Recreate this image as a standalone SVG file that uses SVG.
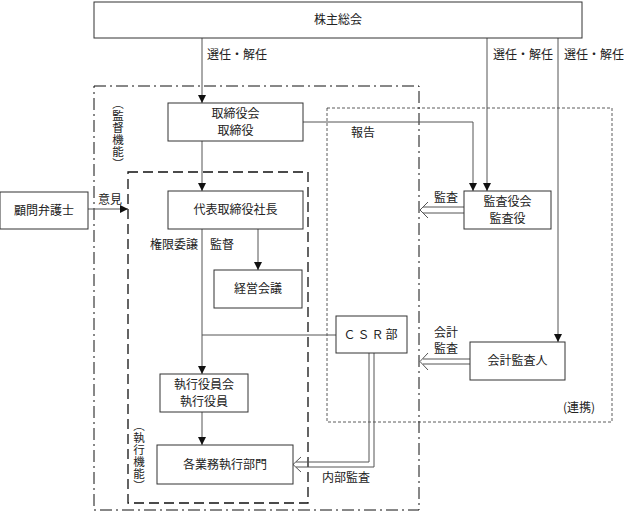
<svg xmlns="http://www.w3.org/2000/svg" width="624" height="515" viewBox="0 0 624 515">
<defs>
<style>
text{font-family:"Noto Sans CJK JP","Noto Sans CJK SC",sans-serif;font-size:12px;fill:#222}
.box{fill:#fff;stroke:#333;stroke-width:1}
.c{text-anchor:middle}
.ln{fill:none;stroke:#555;stroke-width:1}
.vt{writing-mode:vertical-rl;text-orientation:upright;font-size:11.5px;letter-spacing:0.5px}
</style>
<marker id="ah" viewBox="0 0 10 10" refX="10" refY="5" markerWidth="8" markerHeight="8" markerUnits="userSpaceOnUse" orient="auto">
<path d="M0,0 L10,5 L0,10 Z" fill="#111"/>
</marker>
</defs>
<rect width="624" height="515" fill="#fff"/>

<g id="regions">
<rect x="94" y="86" width="325" height="424" fill="none" stroke="#111" stroke-width="1" stroke-dasharray="12,4,2,4"/>
<rect x="128" y="172" width="180" height="331" fill="none" stroke="#111" stroke-width="1.3" stroke-dasharray="10,5"/>
<rect x="327" y="108" width="285" height="314" fill="none" stroke="#333" stroke-width="0.8" stroke-dasharray="3,2"/>
<text id="label-supervise" class="vt" x="118" y="98">︵監督機能︶</text>
<text id="label-execute" class="vt" x="139" y="420">︵執行機能︶</text>
<text x="563" y="412">(連携)</text>
</g>

<g id="connectors">
<line class="ln" x1="202" y1="38" x2="202" y2="103" marker-end="url(#ah)"/>
<line class="ln" x1="487" y1="38" x2="487" y2="191" marker-end="url(#ah)"/>
<line class="ln" x1="558" y1="38" x2="558" y2="342" marker-end="url(#ah)"/>
<polyline class="ln" points="303,122 473,122 473,191" marker-end="url(#ah)"/>
<line class="ln" x1="202" y1="141" x2="202" y2="191" marker-end="url(#ah)"/>
<line class="ln" x1="88" y1="209" x2="128" y2="209" marker-end="url(#ah)"/>
<line class="ln" x1="258" y1="229" x2="258" y2="270" marker-end="url(#ah)"/>
<line class="ln" x1="202" y1="229" x2="202" y2="374" marker-end="url(#ah)"/>
<line class="ln" x1="202" y1="335" x2="336" y2="335"/>
<line class="ln" x1="202" y1="412" x2="202" y2="445" marker-end="url(#ah)"/>
<path class="ln" d="M464,207 H423 M464,213 H423 M428,202 L420,210 L428,218"/>
<path class="ln" d="M470,359 H423 M470,364 H423 M428,353 L420,361.5 L428,370"/>
<path class="ln" d="M369,353 V462 H296 M374,353 V467 H296 M301,457 L293,464.5 L301,472"/>
<text x="207" y="59">選任・解任</text>
<text x="493" y="59">選任・解任</text>
<text x="564" y="59">選任・解任</text>
<text x="351" y="137">報告</text>
<text x="98" y="204">意見</text>
<text x="150" y="249">権限委譲</text>
<text x="210" y="249">監督</text>
<text x="434" y="202">監査</text>
<text x="434" y="337" font-size="11">会計</text>
<text x="434" y="353" font-size="11">監査</text>
<text x="322" y="482">内部監査</text>
</g>

<g id="shareholders"><rect class="box" x="94" y="2" width="488" height="36"/><text class="c" x="338" y="24">株主総会</text></g>
<g id="board"><rect class="box" x="168" y="103" width="135" height="38"/><text class="c" x="235.5" y="118">取締役会</text><text class="c" x="235.5" y="135">取締役</text></g>
<g id="president"><rect class="box" x="168" y="191" width="135" height="38"/><text class="c" x="235.5" y="214">代表取締役社長</text></g>
<g id="lawyer"><rect class="box" x="0" y="192" width="88" height="37"/><text class="c" x="44" y="215">顧問弁護士</text></g>
<g id="mgmt"><rect class="box" x="214" y="270" width="88" height="38"/><text class="c" x="258" y="293">経営会議</text></g>
<g id="csr"><rect class="box" x="336" y="316" width="71" height="37"/><text class="c" x="371.5" y="339" letter-spacing="2">ＣＳＲ部</text></g>
<g id="officers"><rect class="box" x="160" y="374" width="88" height="38"/><text class="c" x="204" y="389">執行役員会</text><text class="c" x="204" y="406">執行役員</text></g>
<g id="divisions"><rect class="box" x="157" y="445" width="136" height="39"/><text class="c" x="225" y="469">各業務執行部門</text></g>
<g id="auditors"><rect class="box" x="464" y="191" width="87" height="38"/><text class="c" x="507.5" y="206">監査役会</text><text class="c" x="507.5" y="223">監査役</text></g>
<g id="accountant"><rect class="box" x="470" y="342" width="95" height="38"/><text class="c" x="517.5" y="365">会計監査人</text></g>
</svg>
